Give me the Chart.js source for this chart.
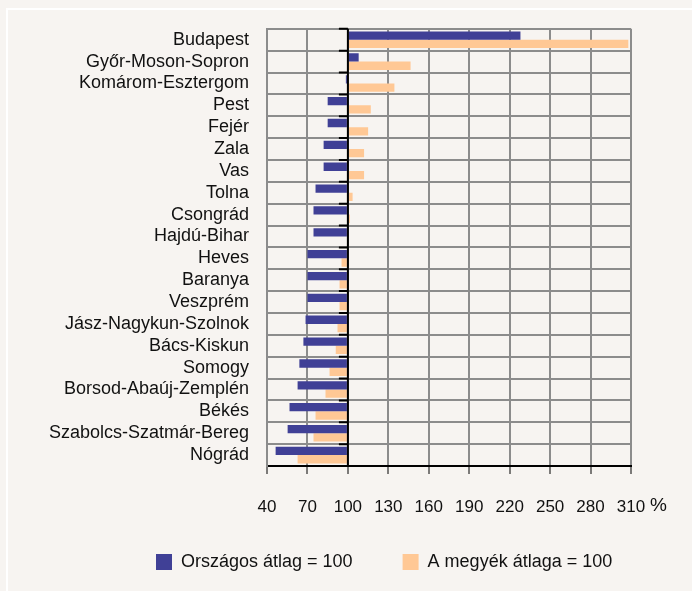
<!DOCTYPE html>
<html>
<head>
<meta charset="utf-8">
<script src="https://cdn.jsdelivr.net/npm/chart.js@4"></script>
<style>
  html, body { margin: 0; padding: 0; background: #f7f4f1; }
  #wrap { position: relative; width: 692px; height: 591px; overflow: hidden; }
  #frame { position: absolute; left: 6px; top: 8px; width: 720px; height: 620px; border: 2px solid #ffffff; }
  canvas { position: absolute; left: 0; top: 0; }
</style>
</head>
<body>
<div id="wrap">
  <div id="frame"></div>
  <canvas id="chart" width="692" height="591"></canvas>
</div>
<script>
const counties = ['Budapest', 'Győr-Moson-Sopron', 'Komárom-Esztergom', 'Pest', 'Fejér', 'Zala', 'Vas', 'Tolna', 'Csongrád', 'Hajdú-Bihar', 'Heves', 'Baranya', 'Veszprém', 'Jász-Nagykun-Szolnok', 'Bács-Kiskun', 'Somogy', 'Borsod-Abaúj-Zemplén', 'Békés', 'Szabolcs-Szatmár-Bereg', 'Nógrád'];
const nationalAvg = [228, 108, 98.5, 85, 85, 82, 82, 76, 74.5, 74.5, 70, 70, 70, 68.6, 67, 64, 62.7, 56.7, 55.3, 46.4];
const countyAvg = [308, 146.5, 134.5, 117, 115, 112, 112, 103.5, 101.5, 100, 95.3, 93.8, 93.8, 92.3, 91, 86.4, 83.4, 76, 74.5, 62.7];
const seriesNames = ['Országos átlag = 100', 'A megyék átlaga = 100'];
const axisMin = 40, axisMax = 310, axisStep = 30, baseValue = 100;

const fontFamily = "'Liberation Sans', Arial, sans-serif";
const legendStart = 156;   // where the first legend box begins
const legendPad = 50;

// black axis at 100 with small ticks to the left, plus the % sign
const baseAxisPlugin = {
    id: 'baseAxis',
    afterLayout(chart) {
        // legend row sits right of centre and a bit higher in the original
        const lg = chart.legend;
        const w = lg.lineWidths[0];
        lg.right = 760;
        lg.left = 2 * legendStart - legendPad - lg.right + w;
        lg.top -= 16;
    },
    afterDraw(chart) {
        const { ctx, chartArea, scales } = chart;
        const x = scales.x.getPixelForValue(baseValue);
        const n = counties.length;
        const step = (chartArea.bottom - chartArea.top) / n;
        ctx.save();
        ctx.strokeStyle = '#000';
        ctx.lineWidth = 2;
        ctx.beginPath();
        ctx.moveTo(x, chartArea.top);
        ctx.lineTo(x, chartArea.bottom);
        for (let i = 0; i <= n; i++) {
            const y = chartArea.top + i * step;
            ctx.moveTo(x - 9, y);
            ctx.lineTo(x, y);
        }
        ctx.stroke();
        ctx.fillStyle = '#111';
        ctx.font = '19px ' + fontFamily;
        ctx.textBaseline = 'middle';
        ctx.fillText('%', scales.x.getPixelForValue(axisMax) + 19, chartArea.bottom + 40);
        ctx.restore();
    }
};

const ctx = document.getElementById('chart').getContext('2d');
new Chart(ctx, {
    type: 'bar',
    data: {
        labels: counties,
        datasets: [
            {
                label: seriesNames[0],
                data: nationalAvg,
                base: baseValue,
                backgroundColor: '#404096',
                categoryPercentage: 0.76,
                barPercentage: 1.0
            },
            {
                label: seriesNames[1],
                data: countyAvg,
                base: baseValue,
                backgroundColor: '#ffc895',
                categoryPercentage: 0.76,
                barPercentage: 1.0
            }
        ]
    },
    options: {
        indexAxis: 'y',
        responsive: false,
        animation: false,
        layout: {
            padding: { left: 0, right: 61, top: 26, bottom: 0 }
        },
        plugins: {
            tooltip: { enabled: false },
            legend: {
                position: 'bottom',
                maxHeight: 72,
                labels: {
                    color: '#111',
                    font: { family: fontFamily, size: 18 },
                    boxWidth: 16,
                    boxHeight: 16,
                    padding: legendPad
                }
            }
        },
        scales: {
            x: {
                type: 'linear',
                min: axisMin,
                max: axisMax,
                ticks: {
                    stepSize: axisStep,
                    color: '#111',
                    font: { family: fontFamily, size: 17 },
                    padding: 23,
                    maxRotation: 0,
                    autoSkip: false
                },
                grid: {
                    color: '#8c8c8c',
                    lineWidth: 2,
                    tickColor: '#000',
                    tickLength: 8,
                    tickWidth: 1
                },
                border: { color: '#000', width: 2 },
                afterFit(scale) { scale.height = 53; }
            },
            y: {
                ticks: {
                    color: '#111',
                    font: { family: fontFamily, size: 18 },
                    padding: 18,
                    autoSkip: false
                },
                grid: {
                    color: '#8c8c8c',
                    lineWidth: 2,
                    drawTicks: false,
                    offset: true
                },
                border: { color: '#8c8c8c', width: 2 },
                afterFit(scale) { scale.width = 267; }
            }
        }
    },
    plugins: [baseAxisPlugin]
});
</script>
</body>
</html>
